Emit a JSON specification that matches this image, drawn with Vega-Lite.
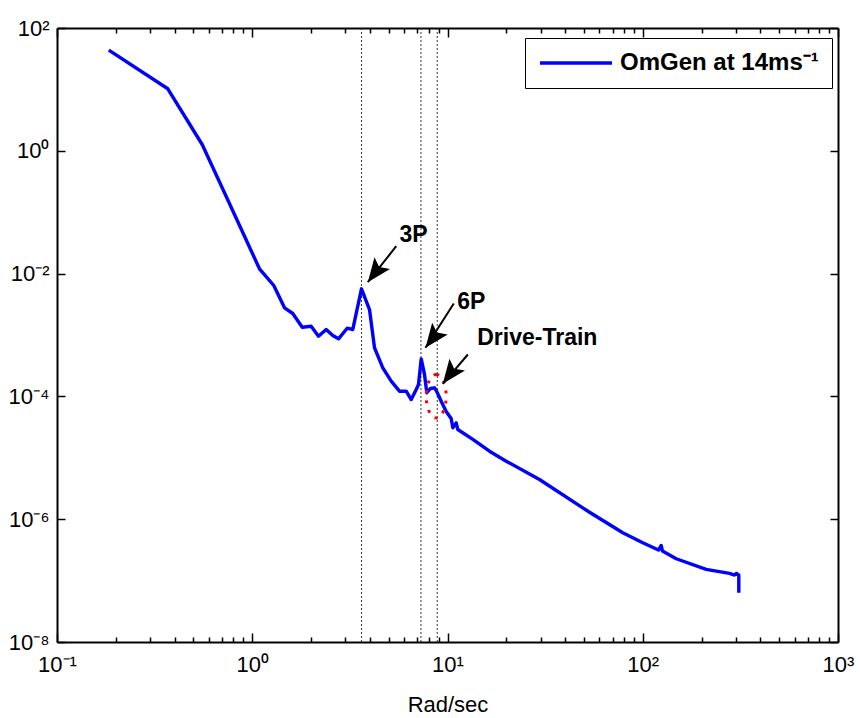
{
  "$schema": "https://vega.github.io/schema/vega-lite/v6.json",
  "width": 781,
  "height": 614,
  "autosize": {"type": "none"},
  "padding": {"left": 57, "top": 28, "right": 22, "bottom": 76},
  "background": "white",
  "config": {"view": {"stroke": null}, "font": "Liberation Sans"},
  "datasets": {
    "spectrum": [
      {"i": 1, "w": 0.1842, "mag": 43.5},
      {"i": 2, "w": 0.3694, "mag": 10.23},
      {"i": 3, "w": 0.5541, "mag": 1.266},
      {"i": 4, "w": 0.7208, "mag": 0.207},
      {"i": 5, "w": 0.9127, "mag": 0.0406},
      {"i": 6, "w": 1.089, "mag": 0.01197},
      {"i": 7, "w": 1.289, "mag": 0.0064},
      {"i": 8, "w": 1.463, "mag": 0.00277},
      {"i": 9, "w": 1.613, "mag": 0.00224},
      {"i": 10, "w": 1.803, "mag": 0.00134},
      {"i": 11, "w": 2.004, "mag": 0.00139},
      {"i": 12, "w": 2.184, "mag": 0.000955},
      {"i": 13, "w": 2.392, "mag": 0.00123},
      {"i": 14, "w": 2.585, "mag": 0.000982},
      {"i": 15, "w": 2.765, "mag": 0.000867},
      {"i": 16, "w": 3.064, "mag": 0.00129},
      {"i": 17, "w": 3.273, "mag": 0.00123},
      {"i": 18, "w": 3.626, "mag": 0.00565},
      {"i": 19, "w": 3.986, "mag": 0.0026},
      {"i": 20, "w": 4.228, "mag": 0.00062},
      {"i": 21, "w": 4.663, "mag": 0.000292},
      {"i": 22, "w": 5.148, "mag": 0.000177},
      {"i": 23, "w": 5.675, "mag": 0.0001216},
      {"i": 24, "w": 6.145, "mag": 0.0001216},
      {"i": 25, "w": 6.52, "mag": 0.0000889},
      {"i": 26, "w": 6.915, "mag": 0.0001294},
      {"i": 27, "w": 7.105, "mag": 0.0001563},
      {"i": 28, "w": 7.334, "mag": 0.000409},
      {"i": 29, "w": 7.625, "mag": 0.000228},
      {"i": 30, "w": 7.834, "mag": 0.0001146},
      {"i": 31, "w": 8.182, "mag": 0.0001346},
      {"i": 32, "w": 8.578, "mag": 0.000138},
      {"i": 33, "w": 8.783, "mag": 0.0001225},
      {"i": 34, "w": 9.284, "mag": 0.0000836},
      {"i": 35, "w": 9.847, "mag": 0.0000568},
      {"i": 36, "w": 10.44, "mag": 0.0000436},
      {"i": 37, "w": 10.65, "mag": 0.0000308},
      {"i": 38, "w": 11.08, "mag": 0.0000371},
      {"i": 39, "w": 11.29, "mag": 0.0000289},
      {"i": 40, "w": 13.48, "mag": 0.0000199},
      {"i": 41, "w": 16.41, "mag": 0.0000128},
      {"i": 42, "w": 19.98, "mag": 0.00000881},
      {"i": 43, "w": 29.59, "mag": 0.00000443},
      {"i": 44, "w": 49.3, "mag": 0.00000153},
      {"i": 45, "w": 53.4, "mag": 0.0000013},
      {"i": 46, "w": 79.0, "mag": 0.000000601},
      {"i": 47, "w": 100.0, "mag": 0.000000413},
      {"i": 48, "w": 120.4, "mag": 0.000000315},
      {"i": 49, "w": 124.3, "mag": 0.000000373},
      {"i": 50, "w": 126.2, "mag": 0.000000303},
      {"i": 51, "w": 148.4, "mag": 0.000000227},
      {"i": 52, "w": 211.3, "mag": 0.000000152},
      {"i": 53, "w": 278.1, "mag": 0.000000131},
      {"i": 54, "w": 295.1, "mag": 0.000000123},
      {"i": 55, "w": 302.0, "mag": 0.000000131},
      {"i": 56, "w": 310.4, "mag": 0.000000123},
      {"i": 57, "w": 310.4, "mag": 0.0000000633}
    ],
    "harmonics": [
      {"name": "3P", "freq": 3.626},
      {"name": "6P", "freq": 7.31},
      {"name": "Drive-Train", "freq": 8.86}
    ],
    "arrows": [
      {"name": "3P", "x0": 5.462, "y0": 0.0279, "x1": 3.907, "y1": 0.00724},
      {"name": "6P", "x0": 10.77, "y0": 0.00326, "x1": 7.714, "y1": 0.00062},
      {"name": "Drive-Train", "x0": 12.71, "y0": 0.000481, "x1": 9.46, "y1": 0.00016}
    ],
    "labels": [
      {"name": "3P", "x": 5.678, "y": 0.03243},
      {"name": "6P", "x": 11.21, "y": 0.002673},
      {"name": "Drive-Train", "x": 14.2, "y": 0.0007}
    ],
    "drivetrain": [
      {"w": 8.752, "mag": 0.0001007}
    ]
  },
  "layer": [
    {
      "data": {"name": "harmonics"},
      "mark": {"type": "rule", "color": "#333333", "strokeWidth": 1, "strokeDash": [2, 2]},
      "encoding": {
        "x": {
          "field": "freq", "type": "quantitative",
          "scale": {"type": "log", "domain": [0.1, 1000], "nice": false},
          "axis": {
            "orient": "top", "offset": -614,
            "values": [0.1, 0.2, 0.3, 0.4, 0.5, 0.6, 0.7, 0.8, 0.9, 1, 2, 3, 4, 5, 6, 7, 8, 9, 10, 20, 30, 40, 50, 60, 70, 80, 90, 100, 200, 300, 400, 500, 600, 700, 800, 900, 1000],
            "tickSize": {"condition": {"test": "abs(log(datum.value)/LN10 - round(log(datum.value)/LN10)) < 0.000001", "value": 9}, "value": 5},
            "tickColor": "black", "tickWidth": 1.5,
            "domain": false, "grid": false, "labels": false, "title": null
          }
        }
      }
    },
    {
      "data": {"name": "spectrum"},
      "mark": {"type": "line", "strokeWidth": 3.4, "strokeJoin": "round"},
      "encoding": {
        "x": {
          "field": "w", "type": "quantitative",
          "scale": {"type": "log", "domain": [0.1, 1000], "nice": false},
          "axis": {
            "orient": "bottom",
            "values": [0.1, 1, 10, 100, 1000],
            "ticks": false, "tickSize": 0,
            "domainColor": "black", "domainWidth": 2,
            "grid": false,
            "labelExpr": "['10⁻¹','10⁰','10¹','10²','10³'][round(log(datum.value)/LN10)+1]",
            "labelFont": "Liberation Sans", "labelFontSize": 22, "labelColor": "black",
            "labelBaseline": "alphabetic", "labelPadding": 29,
            "labelOverlap": false, "labelFlush": false, "labelBound": false,
            "title": "Rad/sec", "titleFont": "Liberation Sans", "titleFontSize": 22, "titleFontWeight": "normal", "titleColor": "black",
            "titleBaseline": "alphabetic", "titleY": 69
          }
        },
        "y": {
          "field": "mag", "type": "quantitative",
          "scale": {"type": "log", "domain": [1e-8, 100], "nice": false},
          "axis": {
            "orient": "left",
            "values": [1e-8, 1e-6, 1e-4, 1e-2, 1, 100],
            "ticks": false, "tickSize": 0,
            "domainColor": "black", "domainWidth": 2,
            "grid": false,
            "labelExpr": "['10⁻⁸','','10⁻⁶','','10⁻⁴','','10⁻²','','10⁰','','10²'][round(log(datum.value)/LN10)+8]",
            "labelFont": "Liberation Sans", "labelFontSize": 22, "labelColor": "black",
            "labelPadding": 8, "labelOverlap": false, "labelFlush": false, "labelBound": false,
            "title": null
          }
        },
        "order": {"field": "i", "type": "quantitative"},
        "color": {
          "datum": "OmGen at 14ms⁻¹",
          "type": "nominal",
          "scale": {"range": ["#0000ff"]},
          "legend": {
            "orient": "none", "legendX": 468, "legendY": 10,
            "title": null,
            "strokeColor": "black", "fillColor": "white",
            "padding": 13, "clipHeight": 24,
            "symbolType": "stroke", "symbolSize": 5184, "symbolStrokeWidth": 3.4,
            "labelFont": "Liberation Sans", "labelFontWeight": "bold", "labelFontSize": 24,
            "labelColor": "black", "labelOffset": 6, "labelLimit": 0
          }
        }
      }
    },
    {
      "data": {"name": "drivetrain"},
      "mark": {
        "type": "point",
        "shape": "M0,-1C0.254,-1 0.46,-0.552 0.46,0C0.46,0.552 0.254,1 0,1C-0.254,1 -0.46,0.552 -0.46,0C-0.46,-0.552 -0.254,-1 0,-1Z",
        "size": 1884, "filled": false, "color": "#ff0000", "strokeWidth": 3, "strokeDash": [3, 7], "opacity": 1
      },
      "encoding": {
        "x": {
          "field": "w", "type": "quantitative",
          "scale": {"type": "log", "domain": [0.1, 1000], "nice": false},
          "axis": {
            "orient": "bottom", "offset": -614,
            "values": [0.1, 0.2, 0.3, 0.4, 0.5, 0.6, 0.7, 0.8, 0.9, 1, 2, 3, 4, 5, 6, 7, 8, 9, 10, 20, 30, 40, 50, 60, 70, 80, 90, 100, 200, 300, 400, 500, 600, 700, 800, 900, 1000],
            "tickSize": {"condition": {"test": "abs(log(datum.value)/LN10 - round(log(datum.value)/LN10)) < 0.000001", "value": 9}, "value": 5},
            "tickColor": "black", "tickWidth": 1.5,
            "domainColor": "black", "domainWidth": 2,
            "grid": false, "labels": false, "title": null
          }
        },
        "y": {
          "field": "mag", "type": "quantitative",
          "scale": {"type": "log", "domain": [1e-8, 100], "nice": false},
          "axis": {
            "orient": "right", "offset": -781,
            "values": [1e-8, 1e-6, 1e-4, 1e-2, 1, 100],
            "tickSize": 8, "tickColor": "black", "tickWidth": 1.5,
            "domain": false, "grid": false, "labels": false, "title": null
          }
        }
      }
    },
    {
      "data": {"name": "arrows"},
      "mark": {"type": "rule", "color": "black", "strokeWidth": 2},
      "encoding": {
        "x": {"field": "x0", "type": "quantitative", "scale": {"type": "log", "domain": [0.1, 1000], "nice": false}, "axis": null},
        "y": {
          "field": "y0", "type": "quantitative",
          "scale": {"type": "log", "domain": [1e-8, 100], "nice": false},
          "axis": {
            "orient": "left", "offset": -781,
            "values": [1e-8, 1e-6, 1e-4, 1e-2, 1, 100],
            "tickSize": 8, "tickColor": "black", "tickWidth": 1.5,
            "domainColor": "black", "domainWidth": 2,
            "grid": false, "labels": false, "title": null
          }
        },
        "x2": {"field": "x1"},
        "y2": {"field": "y1"}
      }
    },
    {
      "data": {"name": "arrows"},
      "mark": {
        "type": "point",
        "shape": "M0,0L0.81,2L0,1.58L-0.81,2Z",
        "size": 576, "angle": 217, "filled": true, "color": "black", "opacity": 1, "strokeWidth": 0
      },
      "encoding": {
        "x": {"field": "x1", "type": "quantitative", "scale": {"type": "log", "domain": [0.1, 1000], "nice": false}, "axis": null},
        "y": {"field": "y1", "type": "quantitative", "scale": {"type": "log", "domain": [1e-8, 100], "nice": false}, "axis": null}
      }
    },
    {
      "data": {"name": "labels"},
      "mark": {"type": "text", "align": "left", "baseline": "alphabetic", "font": "Liberation Sans", "fontWeight": "bold", "fontSize": 23, "color": "black"},
      "encoding": {
        "x": {"field": "x", "type": "quantitative", "scale": {"type": "log", "domain": [0.1, 1000], "nice": false}, "axis": null},
        "y": {"field": "y", "type": "quantitative", "scale": {"type": "log", "domain": [1e-8, 100], "nice": false}, "axis": null},
        "text": {"field": "name"}
      }
    }
  ],
  "resolve": {"axis": {"x": "independent", "y": "independent"}}
}
